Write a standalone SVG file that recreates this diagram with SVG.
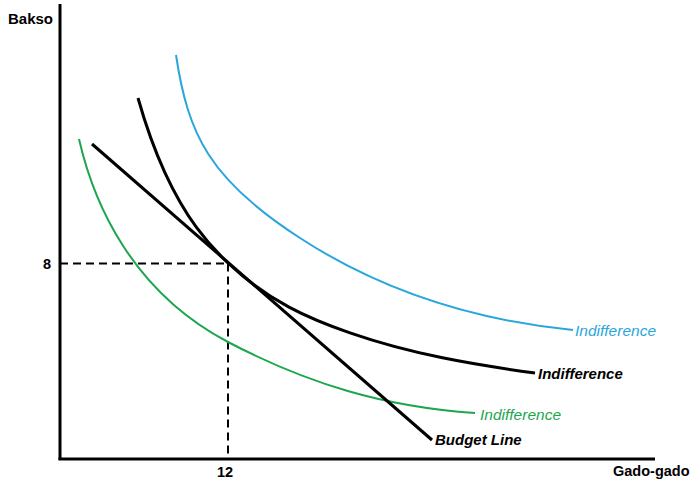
<svg xmlns="http://www.w3.org/2000/svg" width="700" height="488" viewBox="0 0 700 488">
  <style>
    .axis { stroke: #000; stroke-width: 3; fill: none; }
    .dash { stroke: #000; stroke-width: 2; stroke-dasharray: 8 5; fill: none; }
    .curve { fill: none; stroke-linecap: butt; }
    .lbl { font-family: "Liberation Sans", Arial, sans-serif; font-weight: bold; fill: #000; }
    .ital { font-family: "Liberation Sans", Arial, sans-serif; font-style: italic; }
  </style>
  <rect width="700" height="488" fill="#fff"/>

  <g id="axes">
    <line class="axis" x1="60" y1="4" x2="60" y2="460"/>
    <line class="axis" x1="58.5" y1="459" x2="655" y2="459"/>
    <text class="lbl" x="8" y="24" font-size="15">Bakso</text>
    <text class="lbl" x="613" y="476" font-size="14.5">Gado-gado</text>
  </g>

  <g id="guides">
    <line class="dash" x1="60" y1="263.5" x2="228" y2="263.5"/>
    <line class="dash" x1="228" y1="263.5" x2="228" y2="458"/>
    <text class="lbl" x="43" y="269" font-size="14.5">8</text>
    <text class="lbl" x="217" y="477" font-size="14.5">12</text>
  </g>

  <g id="connectors">
    <g id="ic-blue">
      <path class="curve" stroke="#29a6dc" stroke-width="2" d="M176,55 C188,135 210,180 300,238 C380,290 473,320 573,330"/>
      <text class="ital" x="575" y="336" font-size="15.5" fill="#29a6dc">Indifference</text>
    </g>
    <g id="ic-black">
      <path class="curve" stroke="#000" stroke-width="3" d="M138,98 C147,129.9 156,153.3 165,172.8 C186,218.2 207,243.1 228,263 C268.7,301.6 309.3,318.8 350,332.9 C411.7,354.3 473.3,364.6 535,373"/>
      <text class="ital" x="538" y="379" font-size="15" font-weight="bold" fill="#000">Indifference</text>
    </g>
    <g id="ic-green">
      <path class="curve" stroke="#1ca64f" stroke-width="2" d="M79,139 C94,205 133,292 228,342 C308,384 385,407 475,413"/>
      <text class="ital" x="480" y="420" font-size="15.5" fill="#1ca64f">Indifference</text>
    </g>
    <g id="budget-line">
      <line class="curve" stroke="#000" stroke-width="3" x1="92" y1="144" x2="432" y2="440"/>
      <text class="ital" x="435" y="445" font-size="15" font-weight="bold" fill="#000">Budget Line</text>
    </g>
  </g>
</svg>
